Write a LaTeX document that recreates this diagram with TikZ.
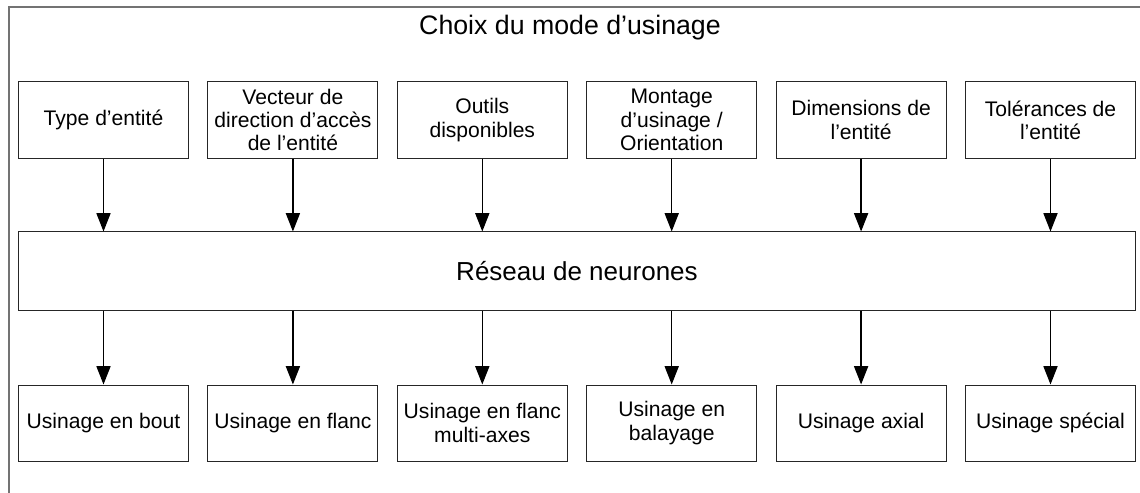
\documentclass[tikz,border=0pt]{standalone}
\usepackage{fontspec}
\setmainfont{Liberation Sans}
\usetikzlibrary{arrows.meta}

\tikzset{
    box/.style={draw=black!85, line width=0.7pt, minimum width=4.25cm, minimum height=1.9cm,
        align=center, inner sep=1pt, font=\fontsize{15}{16.5}\selectfont},
    arr/.style={line width=0.9pt, -{Triangle[length=13pt,width=10pt]}}
}

\begin{document}
\begin{tikzpicture}[x=0.025cm, y=-0.025cm]
    % page and outer frame (cut on the right and at the bottom)
    \useasboundingbox (0,0) rectangle (1140,493);
    \fill[white] (0,0) rectangle (1140,493);
    \draw[black!55, line width=0.8pt] (9,520) -- (9,7) -- (1160,7);

    % title
    \node[font=\fontsize{19}{22}\selectfont] (title) at (570,28) {Choix du mode d'usinage};

    % inputs
    \node[box] (t1) at (103.5,120) {Type d'entité};
    \node[box] (t2) at (292.9,120) {Vecteur de\\direction d'accès\\de l'entité};
    \node[box] (t3) at (482.3,120) {Outils\\disponibles};
    \node[box] (t4) at (671.7,120) {Montage\\d'usinage /\\Orientation};
    \node[box] (t5) at (861.1,120) {Dimensions de\\l'entité};
    \node[box] (t6) at (1050.5,120) {Tolérances de\\l'entité};

    % network
    \node[box, minimum width=27.925cm, minimum height=1.95cm,
        font=\fontsize{18.5}{21}\selectfont] (net) at (577,271) {Réseau de neurones};

    % outputs
    \node[box] (b1) at (103.5,423) {Usinage en bout};
    \node[box] (b2) at (292.9,423) {Usinage en flanc};
    \node[box] (b3) at (482.3,423) {Usinage en flanc\\multi-axes};
    \node[box] (b4) at (671.7,423) {Usinage en\\balayage};
    \node[box] (b5) at (861.1,423) {Usinage axial};
    \node[box] (b6) at (1050.5,423) {Usinage spécial};

    % arrows in
    \draw[arr] (t1.south) -- (t1.south |- net.north);
    \draw[arr] (t2.south) -- (t2.south |- net.north);
    \draw[arr] (t3.south) -- (t3.south |- net.north);
    \draw[arr] (t4.south) -- (t4.south |- net.north);
    \draw[arr] (t5.south) -- (t5.south |- net.north);
    \draw[arr] (t6.south) -- (t6.south |- net.north);

    % arrows out
    \draw[arr] (b1.north |- net.south) -- (b1.north);
    \draw[arr] (b2.north |- net.south) -- (b2.north);
    \draw[arr] (b3.north |- net.south) -- (b3.north);
    \draw[arr] (b4.north |- net.south) -- (b4.north);
    \draw[arr] (b5.north |- net.south) -- (b5.north);
    \draw[arr] (b6.north |- net.south) -- (b6.north);
\end{tikzpicture}
\end{document}
